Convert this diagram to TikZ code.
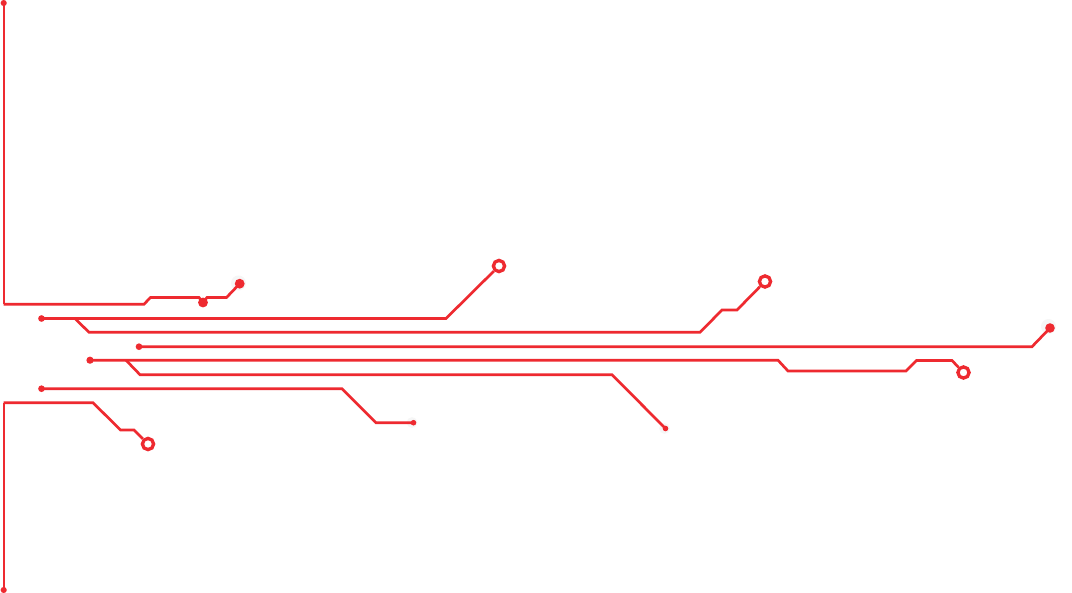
\documentclass[tikz,border=0pt]{standalone}
\definecolor{trace}{HTML}{EE2A30}
\definecolor{glow}{HTML}{F6F6F6}
\tikzset{
  tr/.style={draw=trace,line width=2pt,line join=miter},
  thin tr/.style={draw=trace,line width=1.5pt,line join=miter},
  dot/.style={circle,fill=trace,inner sep=0pt,minimum size=#1},
  dot/.default=7pt,
  ring/.style={circle,draw=trace,fill=white,line width=2.5pt,inner sep=0pt,minimum size=8.4pt},
  halo/.style={fill=glow}
}
\begin{document}
\begin{tikzpicture}[x=0.75pt,y=-0.75pt]
\useasboundingbox[fill=white] (0,0) rectangle (1072,593);
% glow behind terminals
\fill[halo] (238.5,283) circle (5.6pt);
\fill[halo] (1048.5,326.5) circle (5.6pt);
\fill[halo] (412,422.5) circle (4pt);
\fill[halo] (664.5,428.5) circle (4pt);
% coordinates
\coordinate (a1) at (3.7,304.2);
\coordinate (a2) at (144,304.2);
\coordinate (a3) at (150.5,297.5);
\coordinate (a4) at (199,297.5);
\coordinate (a5) at (207,297.5);
\coordinate (a6) at (226.5,297.5);
\coordinate (b1) at (446,318.5);
\coordinate (c0) at (75,318.5);
\coordinate (c1) at (89,332.3);
\coordinate (c2) at (700,332.3);
\coordinate (c3) at (722,310);
\coordinate (c4) at (737,310);
\coordinate (d1) at (1032,346.7);
\coordinate (e1) at (778,360.2);
\coordinate (e2) at (788,371);
\coordinate (e3) at (906,371);
\coordinate (e4) at (916.5,360.5);
\coordinate (e5) at (952,360.5);
\coordinate (f0) at (126,360.2);
\coordinate (f1) at (140,374.7);
\coordinate (f2) at (612,374.7);
\coordinate (g1) at (342,388.7);
\coordinate (g2) at (376,422.7);
\coordinate (h1) at (3.7,402.7);
\coordinate (h2) at (93,402.7);
\coordinate (h3) at (120.5,430);
\coordinate (h4) at (134,430);
% terminals
\node[dot=7.4pt] (p1) at (239.7,283.7) {};
\node[dot=7.4pt] (p2) at (203,302.5) {};
\node[dot=4.6pt] (top) at (3.7,3) {};
\node[dot=5pt] (s2) at (41.5,318.5) {};
\node[ring] (r2) at (499,266) {};
\node[ring] (r3) at (765,281.5) {};
\node[dot=5pt] (s4) at (139,346.7) {};
\node[dot=7.2pt] (p4) at (1050,328) {};
\node[dot=5.4pt] (s5) at (90,360.2) {};
\node[ring] (r5) at (963.5,372.5) {};
\node[dot=4.2pt] (p6) at (665.5,428.5) {};
\node[dot=5pt] (s7) at (41.5,388.7) {};
\node[dot=4.2pt] (p7) at (413.5,422.7) {};
\node[dot=4.6pt] (bot) at (3.7,590) {};
\node[ring] (r8) at (148,444) {};
% connectors
\draw[thin tr] (top.center) -- (a1);
\draw[tr] (a1) -- (a2) -- (a3) -- (a4) -- (p2.center);
\draw[tr] (p2.center) -- (a5) -- (a6) -- (p1.center);
\draw[tr] (s2.center) -- (b1) -- (r2);
\draw[tr] (c0) -- (c1) -- (c2) -- (c3) -- (c4) -- (r3);
\draw[tr] (s4.center) -- (d1) -- (p4.center);
\draw[tr] (s5.center) -- (e1) -- (e2) -- (e3) -- (e4) -- (e5) -- (r5);
\draw[tr] (f0) -- (f1) -- (f2) -- (p6.center);
\draw[tr] (s7.center) -- (g1) -- (g2) -- (p7.center);
\draw[thin tr] (bot.center) -- (h1);
\draw[tr] (h1) -- (h2) -- (h3) -- (h4) -- (r8);
\end{tikzpicture}
\end{document}
